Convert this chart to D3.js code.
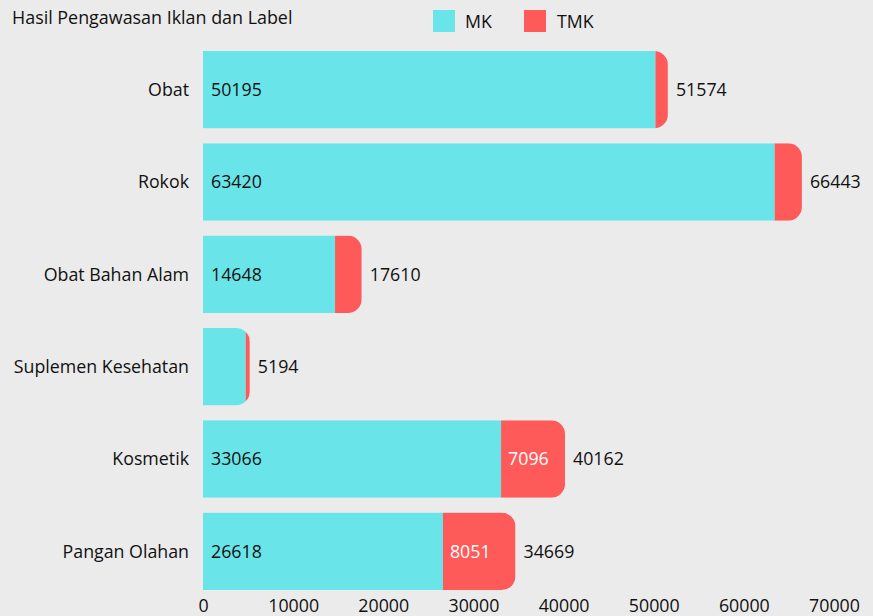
<!DOCTYPE html>
<html><head><meta charset="utf-8">
<script src="https://cdn.jsdelivr.net/npm/d3@7"></script>
<style>
html,body{margin:0;padding:0;background:#ebebeb;}
text{font-family:"Open Sans","Noto Sans",sans-serif;fill:#111;}
</style></head>
<body><svg id="c" width="873" height="616"></svg>
<script>
const categories = ["Obat","Rokok","Obat Bahan Alam","Suplemen Kesehatan","Kosmetik","Pangan Olahan"];
const mk  = [50195, 63420, 14648, 4740, 33066, 26618];
const tmk = [1379, 3023, 2962, 454, 7096, 8051];
const totals = [51574, 66443, 17610, 5194, 40162, 34669];
const xTicks = [0,10000,20000,30000,40000,50000,60000,70000];
const seriesNames = ["MK","TMK"];
const colors = ["#69e5e9","#ff5a5a"];
const fs = 17.8;

const svg = d3.select("#c");
const x = d3.scaleLinear().domain([0,70000]).range([203,834]);
const y = d3.scaleBand().domain(categories).range([43.5,597.5]).paddingInner(0.161).paddingOuter(0.0805);
const r = 14;

// title
svg.append("text").attr("x",12).attr("y",24).attr("font-size",17.9).text("Hasil Pengawasan Iklan dan Label");

// legend
const lg = svg.append("g");
[[433,465],[524,557]].forEach((p,i)=>{
  lg.append("rect").attr("x",p[0]).attr("y",10).attr("width",22).attr("height",22).attr("fill",colors[i]);
  lg.append("text").attr("x",p[1]).attr("y",28).attr("font-size",fs).text(seriesNames[i]);
});

const defs = svg.append("defs");
categories.forEach((c,i)=>{
  const y0 = y(c), h = y.bandwidth();
  const w = x(totals[i]) - x(0);
  const cp = defs.append("clipPath").attr("id","clip"+i);
  cp.append("path").attr("d",
    `M${x(0)},${y0} H${x(0)+w-r} A${r},${r} 0 0 1 ${x(0)+w},${y0+r} V${y0+h-r} A${r},${r} 0 0 1 ${x(0)+w-r},${y0+h} H${x(0)} Z`);
  const g = svg.append("g").attr("clip-path",`url(#clip${i})`);
  g.append("rect").attr("x",x(0)).attr("y",y0).attr("width",x(mk[i])-x(0)).attr("height",h).attr("fill",colors[0]);
  g.append("rect").attr("x",x(mk[i])).attr("y",y0).attr("width",x(mk[i]+tmk[i])-x(mk[i])).attr("height",h).attr("fill",colors[1]);
  const cy = y0 + h/2;
  if (x(mk[i]) - x(0) > 55)
    svg.append("text").attr("x",x(0)+8).attr("y",cy).attr("dy","0.35em").attr("font-size",fs).text(mk[i]);
  if (x(mk[i]+tmk[i]) - x(mk[i]) > 50)
    svg.append("text").attr("x",x(mk[i])+7).attr("y",cy).attr("dy","0.35em").attr("font-size",fs).style("fill","#fff").text(tmk[i]);
  svg.append("text").attr("x",x(totals[i])+8).attr("y",cy).attr("dy","0.35em").attr("font-size",fs).text(totals[i]);
  svg.append("text").attr("x",189).attr("y",cy).attr("dy","0.35em").attr("text-anchor","end").attr("font-size",fs).text(c);
});

// x axis
const ax = svg.append("g").attr("transform","translate(0,597)")
  .call(d3.axisBottom(x).tickValues(xTicks).tickSize(0).tickPadding(2).tickFormat(d3.format("d")));
ax.select(".domain").remove();
ax.selectAll("text").attr("font-size",fs).style("font-family","'Open Sans', 'Noto Sans', sans-serif").style("fill","#111");
</script></body></html>
